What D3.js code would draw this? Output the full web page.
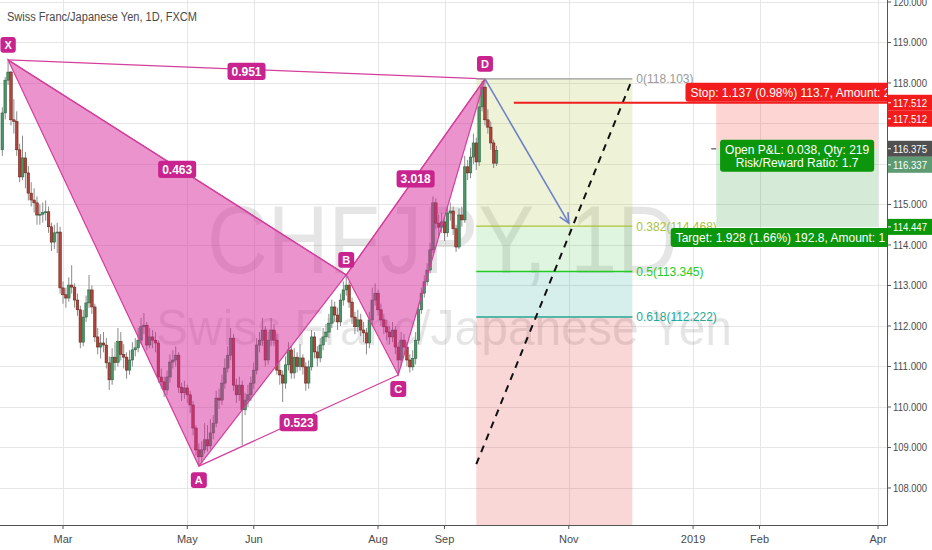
<!DOCTYPE html>
<html><head><meta charset="utf-8">
<script src="https://cdn.jsdelivr.net/npm/d3@7"></script>
<style>
body{margin:0;background:#fff;}
svg{display:block;font-family:"Liberation Sans",Arial,sans-serif;}
</style>
</head><body>
<svg id="chart" width="932" height="550"></svg>
<script>
// ---------- DATA ----------
const title = "Swiss Franc/Japanese Yen, 1D, FXCM";
const startDate = "2018-01-31";           // first bar (trading days only)
const firstOpen = 116.35;
const closes = [117.26,118.07,118.27,117.09,117.05,116.35,115.68,116.15,115.78,115.28,
115.11,115.04,114.74,114.76,114.80,114.82,114.45,114.07,114.30,114.32,
112.94,112.77,112.69,113.01,112.96,112.64,112.40,111.60,112.22,112.57,
112.89,112.47,111.73,111.48,111.58,111.53,111.09,110.67,111.23,111.10,
111.62,111.30,111.23,110.91,111.16,111.41,111.46,111.65,111.98,112.02,
111.53,111.73,111.65,111.58,110.74,110.62,110.42,110.74,111.11,111.16,
111.28,110.49,110.35,110.47,110.30,110.05,109.48,108.94,108.77,108.94,
109.19,109.04,109.36,109.60,110.22,110.17,110.59,110.96,111.28,111.70,
110.54,110.30,110.54,109.93,110.17,110.30,110.59,110.91,111.53,111.65,
111.90,111.16,111.65,111.90,111.65,110.91,110.79,110.59,111.04,111.41,
110.84,111.23,111.00,111.21,110.99,110.59,110.99,111.73,111.36,111.21,
111.53,111.73,111.85,112.07,112.47,112.27,112.10,112.64,112.89,113.01,
112.59,112.22,111.98,112.15,111.90,111.83,111.58,112.15,112.64,112.81,
112.40,112.15,111.98,111.85,111.73,111.90,111.48,111.16,111.65,111.48,
111.16,110.99,111.20,111.65,112.40,112.81,113.09,113.38,113.88,115.04,
114.54,114.44,114.57,114.30,114.79,114.84,114.40,113.95,114.74,114.62,
115.93,115.78,116.17,116.52,116.05,117.41,117.90,117.09,116.91,116.52,
116.02,116.337];
const highs = [117.40,118.15,118.57,118.30,117.60,117.30,116.50,116.70,116.30,115.95,
115.55,115.40,115.20,115.00,115.05,115.10,114.95,114.55,114.50,114.55,
114.45,113.10,112.95,113.20,113.50,113.05,112.80,112.50,112.40,112.75,
113.26,113.00,112.55,111.95,111.80,111.85,111.70,111.25,111.45,111.60,
111.95,111.85,111.55,111.35,111.40,111.60,111.70,111.95,112.20,112.32,
112.10,111.95,111.90,111.85,111.65,110.95,110.75,110.90,111.30,111.40,
111.50,111.35,110.60,110.65,110.55,110.40,110.15,109.55,109.10,109.15,
109.60,109.55,109.70,109.80,110.40,110.45,110.80,111.20,111.50,111.95,
111.80,110.70,110.75,110.65,110.35,110.55,110.75,111.10,111.70,111.85,
112.20,112.00,111.85,112.20,112.05,111.80,111.10,110.90,111.25,111.60,
111.50,111.45,111.35,111.55,111.30,111.10,111.15,111.90,111.85,111.50,
111.70,111.95,112.05,112.30,112.65,112.60,112.45,112.80,113.10,113.26,
113.10,112.70,112.35,112.40,112.30,112.10,111.95,112.35,112.95,113.05,
112.90,112.55,112.30,112.15,112.00,112.10,112.00,111.60,111.85,111.80,
111.60,111.30,111.40,111.85,112.55,112.95,113.25,113.55,114.05,115.20,
115.15,114.75,114.80,114.70,114.95,115.05,114.95,114.50,114.90,114.95,
116.20,116.10,116.40,116.75,116.65,117.60,118.05,118.10,117.35,117.05,
116.60,116.45];
const lows = [116.20,117.10,117.95,116.95,116.75,116.20,115.55,115.60,115.40,115.10,
114.95,114.80,114.50,114.50,114.55,114.60,114.30,113.85,113.90,113.80,
112.80,112.55,112.45,112.60,112.80,112.45,112.25,111.45,111.50,112.10,
112.45,112.30,111.60,111.30,111.20,111.35,110.95,110.42,110.55,110.90,
111.00,111.15,110.95,110.70,110.80,111.00,111.25,111.35,111.55,111.80,
111.40,111.45,111.45,111.35,110.60,110.45,110.25,110.30,110.60,110.95,
111.00,110.35,110.15,110.20,110.10,109.85,109.30,108.80,108.54,108.60,
108.85,108.90,108.95,109.20,109.50,109.95,110.05,110.45,110.85,111.15,
110.40,110.10,110.15,109.06,109.80,110.00,110.15,110.45,110.80,111.35,
111.50,111.00,111.05,111.50,111.50,110.80,110.55,110.12,110.45,110.90,
110.70,110.70,110.85,110.90,110.80,110.40,110.45,110.90,111.20,111.00,
111.10,111.40,111.60,111.70,111.95,112.10,111.90,112.00,112.50,112.75,
112.45,112.05,111.80,111.85,111.75,111.60,111.30,111.45,112.00,112.50,
112.25,112.00,111.80,111.65,111.55,111.60,111.30,110.79,111.00,111.30,
111.00,110.85,110.90,111.05,111.55,112.30,112.70,113.00,113.30,113.80,
114.40,114.20,114.30,114.10,114.20,114.60,114.25,113.83,113.90,114.45,
114.55,115.60,115.65,116.00,115.85,115.95,117.30,116.95,116.75,116.35,
115.90,115.95];

const priceTicks = [108,109,110,111,112,113,114,115,116,117,118,119,120];
const tickDates  = ["2018-03-01","2018-05-01","2018-06-01","2018-08-01","2018-09-03","2018-11-01","2019-01-01","2019-02-01","2019-04-01"];
const tickLabels = ["Mar","May","Jun","Aug","Sep","Nov","2019","Feb","Apr"];

// XABCD harmonic pattern
const patternNames = ["X","A","B","C","D"];
const patternIdx   = [2,68,119,137,167];
const patternPrice = [118.57,108.54,113.26,110.79,118.10];
const ratioPairs   = [[0,4],[0,2],[2,4],[1,3]];
const ratioTexts   = ["0.951","0.463","3.018","0.523"];

// Fibonacci retracement
const fibFromIdx = 164, fibFromPrice = 108.587;
const fibToIdx   = 218, fibToPrice   = 118.103;
const fibLevels  = [0, 0.382, 0.5, 0.618];
const fibLastBandEnd = 1.618;

// projection arrow
const arrowFromIdx = 167, arrowFromPrice = 118.10;
const arrowToIdx   = 196, arrowToPrice   = 114.54;

// position tool
const posFromIdx = 247, posToIdx = 303;
const entryPrice = 116.375, stopPrice = 117.512, targetPrice = 114.447, lastPrice = 116.337;
const stopLineIdx = 177;
const stopText   = "Stop: 1.137 (0.98%) 113.7, Amount: 249";
const targetText = "Target: 1.928 (1.66%) 192.8, Amount: 1 422.2";
const pnlLines   = ["Open P&L: 0.038, Qty: 219", "Risk/Reward Ratio: 1.7"];

// watermark
const wmSymbol = "CHFJPY, 1D";
const wmName   = "Swiss Franc/Japanese Yen";

// ---------- DRAW ----------
const W = 932, H = 550, PW = 887, PH = 525;
const svg = d3.select("#chart");
const x = d3.scaleLinear().domain([-0.8, 306.1]).range([0, PW]);
const y = d3.scaleLinear().domain([107.086, 120.049]).range([PH, 0]);

function idxOf(ds){
  const d0 = new Date(startDate+"T00:00:00Z"), d = new Date(ds+"T00:00:00Z");
  let n = 0;
  for (let t = new Date(d0); t < d; t.setUTCDate(t.getUTCDate()+1)) {
    const w = t.getUTCDay(); if (w !== 0 && w !== 6) n++;
  }
  return n;
}
const tickIdx = tickDates.map(idxOf);

svg.append("defs").append("clipPath").attr("id","plot")
  .append("rect").attr("x",0).attr("y",0).attr("width",PW).attr("height",PH);

const plot = svg.append("g").attr("clip-path","url(#plot)");

// grid
plot.append("g").selectAll("line").data(priceTicks).join("line")
  .attr("x1",0).attr("x2",PW).attr("y1",d=>Math.round(y(d))+0.5).attr("y2",d=>Math.round(y(d))+0.5)
  .attr("stroke","#e6e6e6").attr("stroke-width",1);
plot.append("g").selectAll("line").data(tickIdx).join("line")
  .attr("x1",d=>Math.round(x(d))+0.5).attr("x2",d=>Math.round(x(d))+0.5).attr("y1",0).attr("y2",PH)
  .attr("stroke","#e6e6e6").attr("stroke-width",1);

// watermark
plot.append("text").text(wmSymbol).attr("x",207).attr("y",273)
  .attr("font-size",96).attr("textLength",471).attr("lengthAdjust","spacingAndGlyphs")
  .attr("fill","#000").attr("fill-opacity",0.1);
plot.append("text").text(wmName).attr("x",156).attr("y",345)
  .attr("font-size",50).attr("textLength",576).attr("lengthAdjust","spacingAndGlyphs")
  .attr("fill","#000").attr("fill-opacity",0.1);

// fib bands
const fibP = l => fibToPrice - l*(fibToPrice - fibFromPrice);
const fibColor = {"0":"#9a9a9a","0.382":"#a9c13a","0.5":"#22cc22","0.618":"#22a896"};
const bandDefs = [[0,0.382,"#a9c13a",0.2],[0.382,0.5,"#3fbf3f",0.16],[0.5,0.618,"#22a896",0.18],[0.618,fibLastBandEnd,"#e53935",0.2]];
const fx0 = x(fibFromIdx), fx1 = x(fibToIdx);
plot.append("g").selectAll("rect").data(bandDefs).join("rect")
  .attr("x",fx0).attr("width",fx1-fx0)
  .attr("y",d=>y(fibP(d[0]))).attr("height",d=>y(fibP(d[1]))-y(fibP(d[0])))
  .attr("fill",d=>d[2]).attr("fill-opacity",d=>d[3]);

// position tool zones
const px0 = x(posFromIdx), px1 = x(posToIdx), pcx = (px0+px1)/2;
plot.append("rect").attr("x",px0).attr("width",px1-px0)
  .attr("y",y(stopPrice)).attr("height",y(entryPrice)-y(stopPrice))
  .attr("fill","#f44336").attr("fill-opacity",0.22);
plot.append("rect").attr("x",px0).attr("width",px1-px0)
  .attr("y",y(entryPrice)).attr("height",y(targetPrice)-y(entryPrice))
  .attr("fill","#2e9b3a").attr("fill-opacity",0.2);
plot.append("line").attr("x1",px0-5).attr("x2",px0).attr("y1",y(entryPrice)).attr("y2",y(entryPrice))
  .attr("stroke","#777").attr("stroke-width",1.5);

// candles
const bars = closes.map((c,i)=>({i, o: i===0 ? firstOpen : closes[i-1], c, h: highs[i], l: lows[i]}));
const cg = plot.append("g");
cg.selectAll("line").data(bars).join("line")
  .attr("x1",d=>x(d.i)).attr("x2",d=>x(d.i)).attr("y1",d=>y(d.h)).attr("y2",d=>y(d.l))
  .attr("stroke","#8a8a8a").attr("stroke-width",1);
cg.selectAll("rect").data(bars).join("rect")
  .attr("x",d=>x(d.i)-1.3).attr("width",2.6)
  .attr("y",d=>y(Math.max(d.o,d.c))).attr("height",d=>Math.max(1,Math.abs(y(d.o)-y(d.c))))
  .attr("fill",d=>d.c>=d.o?"#4a9566":"#b0443a")
  .attr("stroke",d=>d.c>=d.o?"#24593a":"#5e1c15").attr("stroke-width",0.5);

// pattern
const P = patternIdx.map((v,k)=>[x(v), y(patternPrice[k])]);
const pinkFill = "#d6279a", pinkLine = "#d43f9c", labelBg = "#c8238e";
[[0,1,2],[2,3,4]].forEach(t=>{
  plot.append("path").attr("d", d3.line()(t.map(k=>P[k]))+"Z")
    .attr("fill",pinkFill).attr("fill-opacity",0.5)
    .attr("stroke",pinkLine).attr("stroke-width",1.2);
});
ratioPairs.forEach(([a,b])=>{
  plot.append("line").attr("x1",P[a][0]).attr("y1",P[a][1]).attr("x2",P[b][0]).attr("y2",P[b][1])
    .attr("stroke",pinkLine).attr("stroke-width",1.2);
});

// fib lines + labels + trendline
fibLevels.forEach(l=>{
  const c = fibColor[String(l)], yy = y(fibP(l));
  plot.append("line").attr("x1",fx0).attr("x2",fx1).attr("y1",yy).attr("y2",yy)
    .attr("stroke",c).attr("stroke-width",1.3);
  plot.append("text").attr("x",fx1+4).attr("y",yy+4.5).attr("font-size",12).attr("fill",c)
    .text(`${l}(${fibP(l).toFixed(3)})`);
});
plot.append("line").attr("x1",x(fibFromIdx)).attr("y1",y(fibFromPrice))
  .attr("x2",x(fibToIdx)).attr("y2",y(fibToPrice))
  .attr("stroke","#111").attr("stroke-width",2).attr("stroke-dasharray","7,6");

// stop line
plot.append("line").attr("x1",x(stopLineIdx)).attr("x2",PW).attr("y1",y(stopPrice)).attr("y2",y(stopPrice))
  .attr("stroke","#f01e1e").attr("stroke-width",2);

// arrow
{
  const ax0 = x(arrowFromIdx), ay0 = y(arrowFromPrice), ax1 = x(arrowToIdx), ay1 = y(arrowToPrice);
  const g = plot.append("g").attr("stroke","#6d80c8").attr("stroke-width",1.6).attr("fill","none");
  g.append("line").attr("x1",ax0).attr("y1",ay0).attr("x2",ax1).attr("y2",ay1);
  const ang = Math.atan2(ay1-ay0, ax1-ax0), L = 11, A = 0.45;
  g.append("path").attr("d", d3.line()([
    [ax1 - L*Math.cos(ang-A), ay1 - L*Math.sin(ang-A)], [ax1, ay1],
    [ax1 - L*Math.cos(ang+A), ay1 - L*Math.sin(ang+A)]]));
}

// pattern labels
function tag(g, cx, cy, txt, fs, bg){
  const t = g.append("text").attr("x",cx).attr("y",cy+fs*0.36).attr("text-anchor","middle")
    .attr("font-size",fs).attr("font-weight","bold").attr("fill","#fff").text(txt);
  const w = t.node().getComputedTextLength();
  g.insert("rect","text").attr("x",cx-w/2-4).attr("y",cy-fs*0.72).attr("width",w+8)
    .attr("height",fs*1.44).attr("rx",3).attr("fill",bg);
}
const lg = plot.append("g");
ratioPairs.forEach(([a,b],k)=>{
  tag(lg.append("g"), (P[a][0]+P[b][0])/2, (P[a][1]+P[b][1])/2 + 2, ratioTexts[k], 12, labelBg);
});
patternNames.forEach((n,k)=>{
  const up = k%2===0;
  tag(lg.append("g"), P[k][0], P[k][1] + (up ? -15 : 14), n, 11, labelBg);
});

// position tool text boxes
function box(g, cx, top, lines, bg){
  const ts = lines.map((s,k)=>g.append("text").attr("x",cx).attr("y",top+14+k*13)
    .attr("text-anchor","middle").attr("font-size",12).attr("fill","#fff").text(s));
  const w = d3.max(ts, t=>t.node().getComputedTextLength());
  g.insert("rect",":first-child").attr("x",cx-w/2-5).attr("y",top).attr("width",w+10)
    .attr("height",lines.length*13+6).attr("rx",3).attr("fill",bg);
}
box(plot.append("g"), pcx, y(stopPrice)-20, [stopText], "#f21c1c");
box(plot.append("g"), pcx, y(targetPrice)+1, [targetText], "#0b960b");
box(plot.append("g"), pcx, y(entryPrice)-9, pnlLines, "#0b960b");

// ---------- AXES ----------
svg.append("rect").attr("x",PW).attr("y",0).attr("width",W-PW).attr("height",H).attr("fill","#fff");
svg.append("rect").attr("x",0).attr("y",PH).attr("width",W).attr("height",H-PH).attr("fill","#fff");
svg.append("line").attr("x1",PW+0.5).attr("x2",PW+0.5).attr("y1",0).attr("y2",PH+0.5).attr("stroke","#555");
svg.append("line").attr("x1",0).attr("x2",PW+0.5).attr("y1",PH+0.5).attr("y2",PH+0.5).attr("stroke","#555");

const priceLabels = [
  {p: stopPrice,   bg:"#f21c1c"},
  {p: stopPrice,   bg:"#f21c1c"},
  {p: entryPrice,  bg:"#505050"},
  {p: lastPrice,   bg:"#5d9c72"},
  {p: targetPrice, bg:"#0b960b"}
];
let prev = -100;
priceLabels.forEach(d=>{ let cy = y(d.p); if (cy < prev+16) cy = prev+16; d.cy = cy; prev = cy; });

const ya = svg.append("g");
function axisText(g, yy, s, col){
  g.append("text").attr("x",PW+6).attr("y",yy+4).attr("font-size",11).attr("fill",col)
    .attr("textLength",34).attr("lengthAdjust","spacingAndGlyphs").text(s);
}
priceTicks.filter(t=>!priceLabels.some(d=>Math.abs(d.cy-y(t))<13)).forEach(t=>{
  ya.append("line").attr("x1",PW).attr("x2",PW+4).attr("y1",y(t)).attr("y2",y(t)).attr("stroke","#555");
  axisText(ya, y(t), t.toFixed(3), "#4a4a4a");
});
priceLabels.forEach(d=>{
  ya.append("rect").attr("x",PW+1).attr("y",d.cy-8).attr("width",W-PW-1).attr("height",16).attr("fill",d.bg);
  ya.append("line").attr("x1",PW+1).attr("x2",PW+4).attr("y1",d.cy).attr("y2",d.cy).attr("stroke","#fff");
  axisText(ya, d.cy, d.p.toFixed(3), "#fff");
});

const xa = svg.append("g");
tickIdx.forEach((t,k)=>{
  xa.append("line").attr("x1",x(t)).attr("x2",x(t)).attr("y1",PH).attr("y2",PH+4).attr("stroke","#555");
  xa.append("text").attr("x",x(t)).attr("y",PH+18).attr("text-anchor","middle")
    .attr("font-size",11).attr("fill","#4a4a4a").text(tickLabels[k]);
});

// title
svg.append("text").attr("x",7).attr("y",21).attr("font-size",12.5).attr("fill","#4a4a4a")
  .attr("textLength",190).attr("lengthAdjust","spacingAndGlyphs").text(title);
</script>
</body></html>
